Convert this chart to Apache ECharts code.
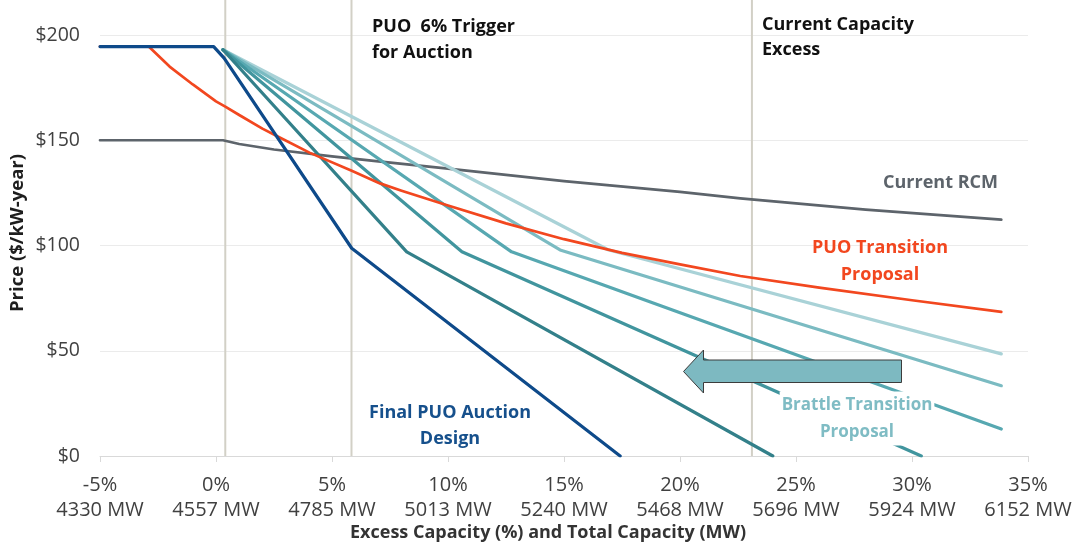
<!DOCTYPE html>
<html>
<head>
<meta charset="utf-8">
<script src="https://cdn.jsdelivr.net/npm/echarts@6/dist/echarts.min.js"></script>
<style>html,body{margin:0;padding:0;background:#fff}#c{width:1077px;height:546px}</style>
</head>
<body>
<div id="c"></div>
<script>
// ---- data ----
const xTicks = [-5, 0, 5, 10, 15, 20, 25, 30, 35];
const pctLabels = ['-5%', '0%', '5%', '10%', '15%', '20%', '25%', '30%', '35%'];
const mwLabels = ['4330 MW', '4557 MW', '4785 MW', '5013 MW', '5240 MW', '5468 MW', '5696 MW', '5924 MW', '6152 MW'];
const yTicks = [0, 50, 100, 150, 200];

const currentRCM = [[-5,150],[0.3,150],[1,148.2],[2.5,145.6],[5,142.3],[7,140],[10,136.5],[15,130.6],[20,125.5],[22.6,122.4],[28,117],[33.85,112.3]];
const puoTransition = [[-5,194.5],[-2.9,194.5],[-2,185],[-1,176.5],[0,168.5],[0.4,166],[1,162],[2,155.5],[2.62,152],[4.05,144],[5.85,135.5],[7.07,129.5],[8,126],[10,119],[12.5,110.5],[15,103],[17.5,96.5],[20,91],[22.6,85.5],[26,80],[30,74],[33.85,68.5]];
const finalPUO = [[-5,194.5],[-0.1,194.5],[0.35,189],[5.85,98.7],[17.42,0]];
const brattle1 = [[0.3,193],[16.9,98],[33.85,48.5]];
const brattle2 = [[0.3,193],[14.83,97.9],[33.85,33.4]];
const brattle3 = [[0.3,193],[12.74,97],[33.85,12.8]];
const brattle4 = [[0.3,193],[10.6,97],[30.4,0]];
const brattle5 = [[0.3,193],[8.22,97],[24,0]];
const markerX = [0.4, 5.84, 23.1];

const FONT = '"Open Sans", sans-serif';
const chart = echarts.init(document.getElementById('c'), null, {renderer: 'canvas'});

function lineSeries(name, data, color, width, z) {
  return {name, type: 'line', data, showSymbol: false, symbol: 'none', z: z,
    lineStyle: {color, width, cap: 'round', join: 'round'}, silent: true, animation: false};
}

const series = [];
markerX.forEach((x, i) => {
  series.push({name: 'v' + i, type: 'line', data: [[x, 0], [x, 217]], clip: false, showSymbol: false, symbol: 'none', z: 1,
    lineStyle: {color: '#d2d0c6', width: 2}, silent: true, animation: false});
});
series.push(lineSeries('Current RCM', currentRCM, '#5d646b', 2.7, 3));
series.push(lineSeries('Brattle 1', brattle1, '#a9d2d7', 3.2, 3));
series.push(lineSeries('Brattle 2', brattle2, '#7bbbc2', 3.2, 3));
series.push(lineSeries('Brattle 3', brattle3, '#57a8b1', 3.2, 3));
series.push(lineSeries('Brattle 4', brattle4, '#41959e', 3.2, 3));
series.push(lineSeries('Brattle 5', brattle5, '#33808a', 3.2, 3));
series.push(lineSeries('PUO Transition', puoTransition, '#f2471f', 2.7, 4));
series.push(lineSeries('Final PUO Auction Design', finalPUO, '#0e4a8a', 3.2, 5));

const option = {
  animation: false,
  backgroundColor: '#ffffff',
  grid: {left: 100, right: 49, top: 35, bottom: 90, containLabel: false},
  xAxis: {
    type: 'value', min: -5, max: 35, interval: 5,
    axisLine: {show: true, lineStyle: {color: '#d9d9d9', width: 1}},
    axisTick: {show: true, length: 6, lineStyle: {color: '#d9d9d9'}},
    splitLine: {show: false},
    axisLabel: {
      margin: 17, color: '#404040', fontFamily: FONT, fontSize: 20, lineHeight: 25,
      formatter: v => { const i = xTicks.indexOf(Math.round(v)); return i >= 0 ? pctLabels[i] + '\n' + mwLabels[i] : ''; }
    }
  },
  yAxis: {
    type: 'value', min: 0, max: 200, interval: 50,
    axisLine: {show: false}, axisTick: {show: false},
    splitLine: {show: true, lineStyle: {color: '#ebebeb', width: 1}},
    axisLabel: {margin: 20, color: '#404040', fontFamily: FONT, fontSize: 19.5,
      formatter: v => yTicks.indexOf(v) >= 0 ? '$' + v : ''}
  },
  series: series,
  graphic: [
    {type: 'text', z: 100, style: {text: 'Price ($/kW-year)', x: 18, y: 233, align: 'center', verticalAlign: 'middle',
      fontFamily: FONT, fontSize: 18.5, fontWeight: 'bold', fill: '#1e1e1e'}, rotation: Math.PI / 2, x: 0, y: 0, originX: 18, originY: 233},
    {type: 'text', z: 100, style: {text: 'Excess Capacity (%) and Total Capacity (MW)', x: 548, y: 533, align: 'center', verticalAlign: 'middle',
      fontFamily: FONT, fontSize: 18, fontWeight: 'bold', fill: '#333333'}},
    {type: 'text', z: 100, style: {text: 'PUO  6% Trigger\nfor Auction', x: 372, y: 40, align: 'left', verticalAlign: 'middle', lineHeight: 26,
      fontFamily: FONT, fontSize: 18, fontWeight: 'bold', fill: '#111111'}},
    {type: 'text', z: 100, style: {text: 'Current Capacity\nExcess', x: 762, y: 37.5, align: 'left', verticalAlign: 'middle', lineHeight: 25,
      fontFamily: FONT, fontSize: 18, fontWeight: 'bold', fill: '#111111'}},
    {type: 'text', z: 100, style: {text: 'Current RCM', x: 998, y: 183, align: 'right', verticalAlign: 'middle',
      fontFamily: FONT, fontSize: 18, fontWeight: 'bold', fill: '#5d646b'}},
    {type: 'text', z: 100, style: {text: 'PUO Transition\nProposal', x: 880, y: 261.5, align: 'center', verticalAlign: 'middle', lineHeight: 27,
      fontFamily: FONT, fontSize: 18, fontWeight: 'bold', fill: '#f2471f'}},
    {type: 'text', z: 100, style: {text: 'Brattle Transition\nProposal', x: 857, y: 418.5, align: 'center', verticalAlign: 'middle', lineHeight: 27,
      fontFamily: FONT, fontSize: 17, fontWeight: 'bold', fill: '#7fbcc4', backgroundColor: '#ffffff', padding: [0, 2]}},
    {type: 'text', z: 100, style: {text: 'Final PUO Auction\nDesign', x: 450, y: 426, align: 'center', verticalAlign: 'middle', lineHeight: 26,
      fontFamily: FONT, fontSize: 18, fontWeight: 'bold', fill: '#16508c'}},
    {type: 'polygon', z: 90, shape: {points: [[683.5,371.5],[703.5,350],[703.5,360],[901.5,360],[901.5,382.5],[703.5,382.5],[703.5,393]]},
      style: {fill: '#7db9c1', stroke: '#3c3c3c', lineWidth: 1}}
  ]
};
chart.setOption(option);
</script>
</body>
</html>
